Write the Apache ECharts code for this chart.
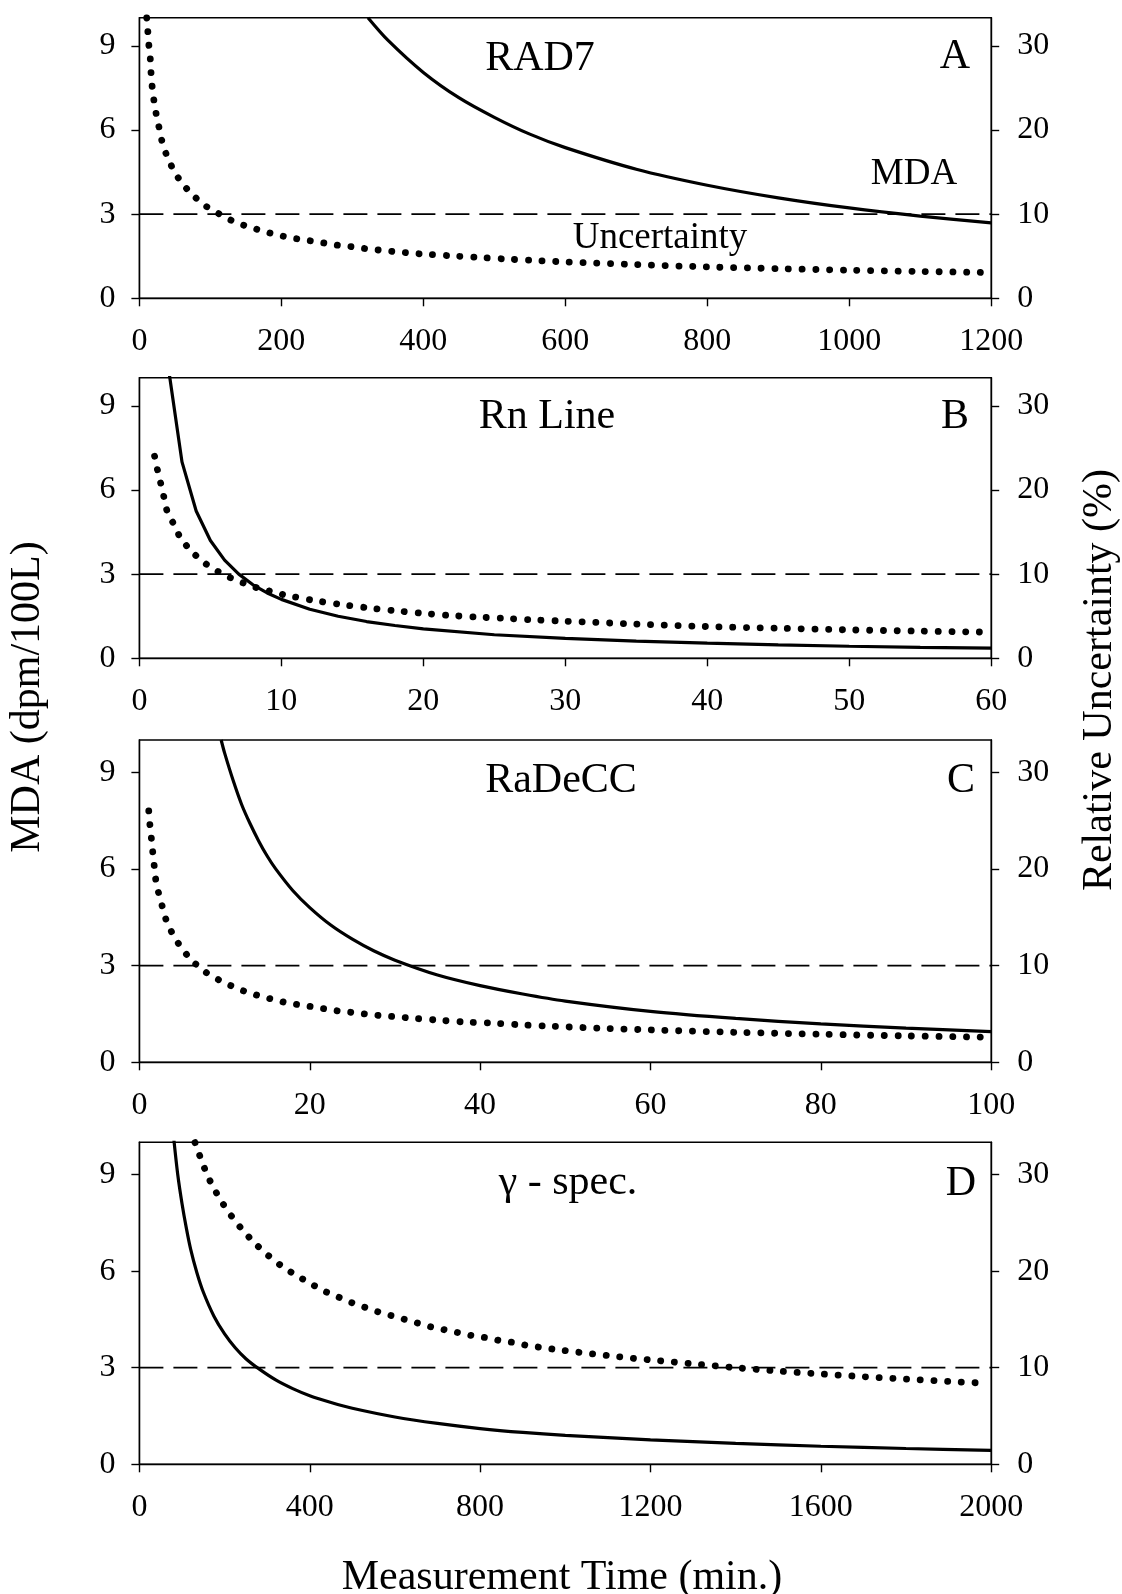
<!DOCTYPE html>
<html><head><meta charset="utf-8">
<script src="https://cdn.jsdelivr.net/npm/echarts@6/dist/echarts.min.js"></script>
<style>html,body{margin:0;padding:0;background:#fff}#c{width:1122px;height:1594px}</style>
</head><body><div id="c"></div><script>
// ---------- data ----------
const leftTicks = [0, 3, 6, 9];
const rightTicks = [0, 10, 20, 30];
const mdaThreshold = 3;

// Panel A: RAD7
const aXTicks = [0, 200, 400, 600, 800, 1000, 1200];
const aMdaT = [322, 350, 400, 450, 500, 550, 600, 700, 800, 900, 1000, 1100, 1200];
const aMda  = [10.0, 9.2, 8.05, 7.15, 6.45, 5.85, 5.37, 4.6, 4.03, 3.58, 3.22, 2.93, 2.69];
const aUncT = [10.3, 11.8, 13.3, 15.3, 16.3, 17.8, 20.3, 23.4, 27.4, 31.4, 37.9, 45.9, 58, 73.7, 92.8, 112, 131, 150, 170, 189, 208, 227, 246, 265, 285, 303, 322, 341, 360, 380, 399, 437, 476, 515, 553, 600, 700, 800, 900, 1000, 1100, 1190];
const aUnc  = [33.3, 31.8, 30.1, 28.5, 26.9, 25.3, 23.6, 22.0, 20.4, 18.8, 17.1, 15.6, 13.9, 12.4, 11.0, 10.05, 9.2, 8.6, 8.08, 7.64, 7.28, 7.0, 6.77, 6.5, 6.24, 6.1, 5.86, 5.7, 5.54, 5.38, 5.26, 5.06, 4.87, 4.67, 4.51, 4.32, 4.0, 3.73, 3.52, 3.34, 3.19, 3.07];

// Panel B: Rn Line
const bXTicks = [0, 10, 20, 30, 40, 50, 60];
const bMdaT = [2, 3, 4, 5, 6, 7, 8, 9, 10, 12, 14, 16, 18, 20, 25, 30, 35, 40, 45, 50, 55, 60];
const bMda  = [10.5, 7.0, 5.25, 4.2, 3.5, 3.0, 2.62, 2.33, 2.1, 1.75, 1.5, 1.31, 1.17, 1.05, 0.84, 0.71, 0.61, 0.54, 0.48, 0.43, 0.39, 0.36];
const bUncT = [1.07, 1.27, 1.5, 1.72, 1.95, 2.4, 2.9, 3.68, 4.62, 5.55, 6.5, 7.47, 8.43, 9.4, 10.3, 12.2, 14.2, 16.1, 18, 19.9, 21.8, 23.8, 25.7, 27.6, 29.7, 35, 39.8, 45, 49.6, 55, 59.3];
const bUnc  = [24.0, 22.4, 20.8, 19.2, 17.5, 16.0, 14.3, 12.7, 11.3, 10.3, 9.5, 8.86, 8.3, 7.9, 7.5, 6.9, 6.4, 6.0, 5.65, 5.35, 5.1, 4.9, 4.75, 4.58, 4.43, 4.07, 3.78, 3.57, 3.39, 3.23, 3.12];

// Panel C: RaDeCC
const cXTicks = [0, 20, 40, 60, 80, 100];
const cMdaT = [9.6, 10, 11, 12, 13, 14, 15, 16, 18, 20, 22.5, 25, 27.5, 30, 35, 40, 45, 50, 60, 70, 80, 90, 100];
const cMda  = [10.0, 9.6, 8.75, 8.0, 7.4, 6.87, 6.4, 6.0, 5.33, 4.8, 4.25, 3.82, 3.46, 3.17, 2.71, 2.38, 2.12, 1.9, 1.58, 1.36, 1.19, 1.06, 0.95];
const cUncT = [1.1, 1.23, 1.4, 1.56, 1.73, 1.9, 2.23, 2.66, 3.11, 3.83, 4.8, 6.1, 7.7, 9.3, 10.9, 12.5, 14.1, 15.7, 17.3, 18.9, 20.5, 22.1, 23.7, 25.3, 26.9, 28.5, 30.1, 31.7, 34.9, 38.1, 41.3, 44.5, 47.7, 55, 60, 70, 80, 90, 99.5];
const cUnc  = [26.0, 24.6, 23.2, 21.8, 20.4, 19.0, 17.6, 16.2, 14.8, 13.4, 12.0, 10.6, 9.37, 8.54, 7.86, 7.3, 6.86, 6.5, 6.16, 5.93, 5.72, 5.48, 5.27, 5.13, 4.96, 4.82, 4.71, 4.58, 4.37, 4.17, 4.06, 3.89, 3.75, 3.5, 3.35, 3.1, 2.9, 2.73, 2.6];

// Panel D: gamma spec.
const dXTicks = [0, 400, 800, 1200, 1600, 2000];
const dMdaT = [80, 90, 100, 110, 120, 135, 150, 175, 200, 225, 250, 280, 320, 360, 400, 450, 500, 600, 700, 800, 900, 1000, 1200, 1400, 1600, 1800, 2000];
const dMda  = [10.2, 9.0, 8.1, 7.35, 6.7, 5.95, 5.35, 4.6, 4.05, 3.62, 3.28, 2.97, 2.62, 2.35, 2.13, 1.92, 1.74, 1.47, 1.27, 1.11, 0.99, 0.9, 0.76, 0.65, 0.56, 0.49, 0.43];
const dUncT = [130.5, 134.6, 146.3, 159.8, 175.8, 194.4, 216.2, 241.4, 270.9, 302.9, 334.9, 366.8, 398.8, 430.8, 462.7, 494.7, 526.7, 558.7, 590.6, 622.6, 654.6, 686.6, 719.3, 751.2, 783.2, 815.2, 847.2, 879.2, 911.1, 943.1, 975, 1100, 1200, 1300, 1400, 1500, 1600, 1700, 1800, 1900, 1990];
const dUnc  = [33.3, 32.8, 31.4, 29.9, 28.5, 27.1, 25.7, 24.3, 22.9, 21.6, 20.5, 19.6, 18.8, 18.0, 17.4, 16.8, 16.3, 15.8, 15.4, 15.0, 14.6, 14.2, 13.9, 13.6, 13.3, 13.1, 12.8, 12.6, 12.3, 12.1, 11.9, 11.25, 10.8, 10.4, 10.0, 9.65, 9.35, 9.07, 8.82, 8.58, 8.38];

const panelTitles = ['RAD7', 'Rn Line', 'RaDeCC', 'γ - spec.'];
const panelLetters = ['A', 'B', 'C', 'D'];
const xTitle = 'Measurement Time (min.)';
const yLeftTitle = 'MDA (dpm/100L)';
const yRightTitle = 'Relative Uncertainty (%)';

// ---------- layout ----------
const FONT = "'Liberation Serif', 'Times New Roman', serif";
const panels = [
  {top: 17.7, height: 280.6, xt: aXTicks, mT: aMdaT, m: aMda, uT: aUncT, u: aUnc, smoothM: true,
   title: {x: 540, y: 59}, letter: {x: 955, y: 57}},
  {top: 377.7, height: 280.6, xt: bXTicks, mT: bMdaT, m: bMda, uT: bUncT, u: bUnc, smoothM: false,
   title: {x: 547, y: 417}, letter: {x: 955, y: 417}},
  {top: 740, height: 322.3, xt: cXTicks, mT: cMdaT, m: cMda, uT: cUncT, u: cUnc, smoothM: true,
   title: {x: 561, y: 781}, letter: {x: 961, y: 781}},
  {top: 1142.3, height: 322, xt: dXTicks, mT: dMdaT, m: dMda, uT: dUncT, u: dUnc, smoothM: true,
   title: {x: 568, y: 1183}, letter: {x: 961, y: 1184}}
];
const zip = (a, b) => a.map((v, i) => [v, b[i]]);

const grid = [], xAxis = [], yAxis = [], series = [], graphic = [];
const axisLineStyle = {color: '#000', width: 1.4};
const labelStyle = {color: '#000', fontFamily: FONT, fontSize: 32, formatter: v => String(v)};

panels.forEach((p, i) => {
  grid.push({left: 139.4, right: 130.8, top: p.top, height: p.height, show: true,
    borderColor: '#000', borderWidth: 1.4, backgroundColor: 'transparent'});
  const xMax = p.xt[p.xt.length - 1];
  xAxis.push({type: 'value', gridIndex: i, min: 0, max: xMax, position: 'bottom',
    axisLine: {show: true, onZero: false, lineStyle: axisLineStyle},
    axisTick: {show: true, length: 8, lineStyle: axisLineStyle, customValues: p.xt},
    axisLabel: Object.assign({margin: 27, customValues: p.xt}, labelStyle),
    splitLine: {show: false}});
  yAxis.push({type: 'value', gridIndex: i, min: 0, max: 10, position: 'left',
    axisLine: {show: true, lineStyle: axisLineStyle},
    axisTick: {show: true, length: 8, lineStyle: axisLineStyle, customValues: leftTicks},
    axisLabel: Object.assign({margin: 24, customValues: leftTicks}, labelStyle),
    splitLine: {show: false}});
  yAxis.push({type: 'value', gridIndex: i, min: 0, max: 100 / 3, position: 'right',
    axisLine: {show: true, lineStyle: axisLineStyle},
    axisTick: {show: true, length: 8, lineStyle: axisLineStyle, customValues: rightTicks},
    axisLabel: Object.assign({margin: 26, customValues: rightTicks}, labelStyle),
    splitLine: {show: false}});
  series.push({type: 'line', xAxisIndex: i, yAxisIndex: 2 * i, symbol: 'none', silent: true, z: 2,
    data: [[0, mdaThreshold], [xMax, mdaThreshold]],
    lineStyle: {color: '#000', width: 1.8, type: [24, 10]}});
  series.push({type: 'line', xAxisIndex: i, yAxisIndex: 2 * i, symbol: 'none', silent: true, z: 3,
    smooth: p.smoothM ? 0.3 : false, clip: true, data: zip(p.mT, p.m),
    lineStyle: {color: '#000', width: 3.2}});
  series.push({type: 'line', xAxisIndex: i, yAxisIndex: 2 * i + 1, symbol: 'none', silent: true, z: 4,
    smooth: 0.3, clip: false, data: zip(p.uT, p.u),
    lineStyle: {color: '#000', width: 6.8, type: [0.1, 13.6], cap: 'round'}});
  graphic.push({type: 'text', x: p.title.x, y: p.title.y, silent: true, z: 10,
    style: {text: panelTitles[i], font: '42px ' + FONT, fill: '#000', textAlign: 'center', textVerticalAlign: 'middle', align: 'center', verticalAlign: 'middle'}});
  graphic.push({type: 'text', x: p.letter.x, y: p.letter.y, silent: true, z: 10,
    style: {text: panelLetters[i], font: '42px ' + FONT, fill: '#000', textAlign: 'center', textVerticalAlign: 'middle', align: 'center', verticalAlign: 'middle'}});
});

const txt = (text, x, y, size, rot) => ({type: 'text', x, y, rotation: rot || 0, silent: true, z: 10,
  style: {text, font: size + 'px ' + FONT, fill: '#000', textAlign: 'center', textVerticalAlign: 'middle', align: 'center', verticalAlign: 'middle'}});
graphic.push(txt('MDA', 914, 174, 37));
graphic.push(txt('Uncertainty', 660, 238, 37));
graphic.push(txt(yLeftTitle, 28, 697, 42, Math.PI / 2));
graphic.push(txt(yRightTitle, 1100, 680, 42, Math.PI / 2));
graphic.push(txt(xTitle, 562, 1578, 42));

const chart = echarts.init(document.getElementById('c'), null, {renderer: 'canvas'});
chart.setOption({animation: false, backgroundColor: '#fff', grid, xAxis, yAxis, series, graphic});
</script></body></html>
